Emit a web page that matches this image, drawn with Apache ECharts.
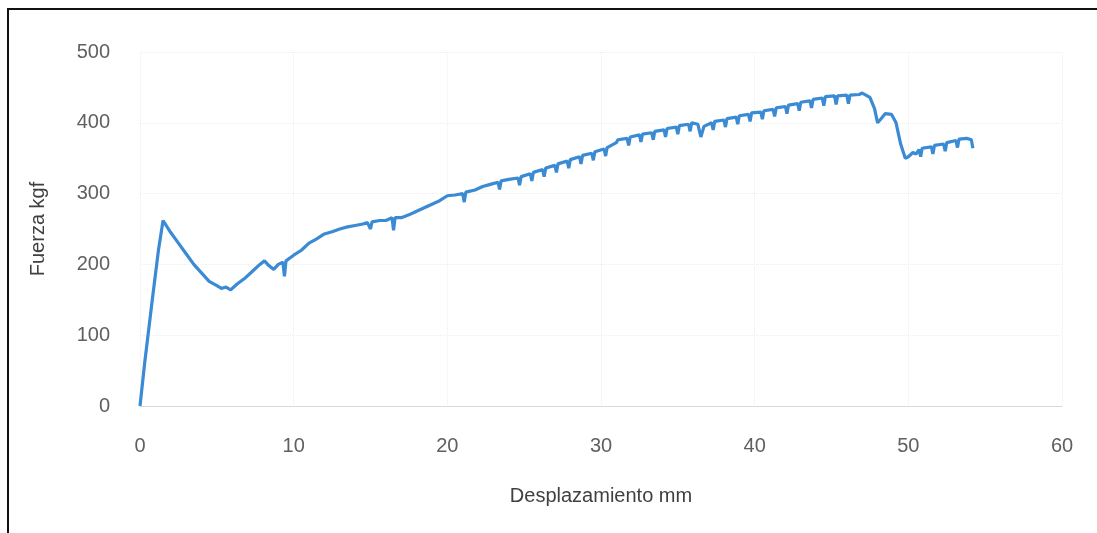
<!DOCTYPE html>
<html><head><meta charset="utf-8">
<script src="https://cdn.jsdelivr.net/npm/echarts@6/dist/echarts.min.js"></script>
<style>
html,body{margin:0;padding:0;background:#fff;}
#c{width:1097px;height:533px;position:absolute;left:0;top:0;}
#frame{position:absolute;left:7px;top:8px;width:1090px;height:525px;border-top:2px solid #111;border-left:2px solid #111;pointer-events:none;}
</style></head><body>
<div id="c"></div><div id="frame"></div>
<script>
const xTicks = [0,10,20,30,40,50,60];
const yTicks = [0,100,200,300,400,500];
const desplazamiento = [0,0.3,0.8,1.2,1.5,2.0,2.5,3.0,3.5,4.0,4.5,5.0,5.3,5.6,5.9,6.3,6.8,7.3,7.8,8.1,8.4,8.7,9.0,9.3,9.4,9.5,10.0,10.5,11.0,11.5,12.0,12.5,13.0,13.5,14.0,14.5,14.8,15.0,15.1,15.6,16.0,16.4,16.5,16.6,17.0,17.5,18.0,18.5,19.0,19.5,20.0,20.5,21.0,21.1,21.2,21.8,22.3,22.8,23.3,23.4,23.5,24.0,24.6,24.7,24.8,25.4,25.5,25.6,26.2,26.3,26.4,27.0,27.1,27.2,27.8,27.9,28.0,28.6,28.7,28.8,29.4,29.5,29.6,30.2,30.3,30.4,31.0,31.1,31.7,31.8,31.9,32.5,32.6,32.7,33.3,33.4,33.5,34.1,34.2,34.3,34.9,35.0,35.1,35.7,35.8,35.9,36.3,36.5,36.7,37.2,37.3,37.4,38.0,38.1,38.2,38.8,38.9,39.0,39.6,39.7,39.8,40.4,40.5,40.6,41.2,41.3,41.4,42.0,42.1,42.2,42.8,42.9,43.0,43.6,43.7,43.8,44.4,44.5,44.6,45.2,45.3,45.4,46.0,46.1,46.2,46.8,47.0,47.5,47.8,48.0,48.2,48.5,48.9,49.2,49.5,49.8,50.0,50.3,50.5,50.7,50.8,50.9,51.5,51.6,51.7,52.3,52.4,52.5,53.1,53.2,53.3,53.8,54.1,54.2];
const fuerza = [0,60,150,220,262,245,230,215,200,188,176,170,166,168,164,172,180,190,200,205,198,193,200,203,183,205,213,220,230,236,243,246,250,253,255,257,259,250,260,262,262,266,248,266,266,270,275,280,285,290,297,298,300,288,302,305,310,313,316,306,318,320,322,312,324,328,318,330,334,324,336,340,330,342,346,336,348,352,342,354,357,347,359,363,353,365,372,376,378,368,380,383,373,384,386,376,388,390,380,392,394,384,396,398,388,400,398,380,395,400,390,402,404,394,406,408,398,410,412,402,414,415,405,417,419,409,421,423,413,425,427,417,429,431,421,433,435,424,437,438,426,438,439,427,439,440,442,436,420,400,405,413,412,400,370,350,352,358,356,362,352,364,366,356,368,370,360,372,375,365,377,378,376,364];
const seriesData = desplazamiento.map((x,i)=>[x,fuerza[i]]);
const chart = echarts.init(document.getElementById('c'));
const font = 'Liberation Sans';
chart.setOption({
  animation:false,
  backgroundColor:'#fff',
  grid:{left:140,right:35,top:52,bottom:127,containLabel:false},
  xAxis:{type:'value',min:0,max:60,interval:10,
    name:'Desplazamiento mm',nameLocation:'middle',nameGap:80,
    nameTextStyle:{color:'#404040',fontSize:20,fontFamily:font},
    axisLine:{show:true,lineStyle:{color:'#d9d9d9',width:1}},
    axisTick:{show:false},
    axisLabel:{color:'#606060',fontSize:20,fontFamily:font,margin:30},
    splitLine:{show:true,lineStyle:{color:'#eeeeee',type:'dotted'}}},
  yAxis:{type:'value',min:0,max:500,interval:100,
    name:'Fuerza kgf',nameLocation:'middle',nameGap:92,
    nameTextStyle:{color:'#404040',fontSize:20,fontFamily:font},
    axisLine:{show:false},axisTick:{show:false},
    axisLabel:{color:'#606060',fontSize:20,fontFamily:font,margin:30},
    splitLine:{show:true,lineStyle:{color:'#eeeeee',type:'dotted'}}},
  series:[{type:'line',data:seriesData,showSymbol:false,
    lineStyle:{color:'#3a8ad4',width:3.2},itemStyle:{color:'#3a8ad4'}}]
});
</script></body></html>
